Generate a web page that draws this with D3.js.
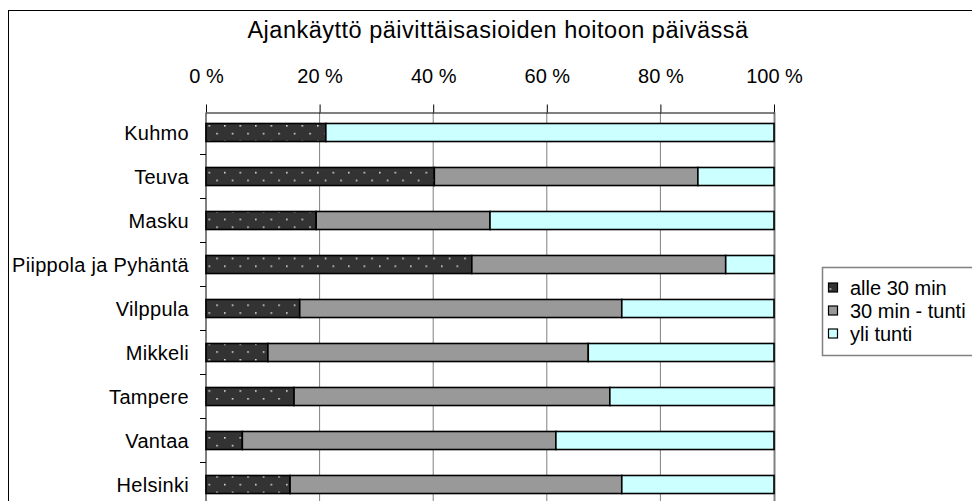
<!DOCTYPE html>
<html>
<head>
<meta charset="utf-8">
<script src="https://cdn.jsdelivr.net/npm/d3@7"></script>
<style>
  body { margin: 0; background: #fff; }
  svg { display: block; font-family: "Liberation Sans", Arial, sans-serif; }
  .tick-label, .legend-label { font-size: 20px; fill: #000; }
  .cat-label { font-size: 20px; letter-spacing: 0.3px; fill: #000; }
  .title { font-size: 23.5px; letter-spacing: 0.5px; fill: #000; }
</style>
</head>
<body>
<svg id="chart" width="972" height="501"></svg>
<script>
//----------------
// Data
//----------------

const categories = ["Kuhmo", "Teuva", "Masku", "Piippola ja Pyhäntä", "Vilppula",
                    "Mikkeli", "Tampere", "Vantaa", "Helsinki"];
const seriesNames = ["alle 30 min", "30 min - tunti", "yli tunti"];
const alle30 =  [21.1, 40.2, 19.4, 46.8, 16.5, 10.9, 15.5,  6.4, 14.8];
const min30h =  [ 0.0, 46.4, 30.6, 44.7, 56.7, 56.4, 55.6, 55.2, 58.4];
const yliTunti = [78.9, 13.4, 50.0,  8.5, 26.8, 32.7, 28.9, 38.4, 26.8];
const tickValues = [0, 20, 40, 60, 80, 100];
const title = "Ajankäyttö päivittäisasioiden hoitoon päivässä";

//----------------
// Constants
//----------------

const plot = {left: 206, right: 774, top: 112.5, step: 44};
const colors = ["url(#dots)", "#999999", "#ccffff"];

var svg = d3.select("#chart");

// table built from the arrays
var data = categories.map(function(c, i) {
  return {name: c, "alle 30 min": alle30[i], "30 min - tunti": min30h[i], "yli tunti": yliTunti[i]};
});

var x = d3.scaleLinear().domain([0, 100]).range([plot.left, plot.right]);
var y = d3.scaleBand()
  .domain(categories)
  .range([plot.top - 2, plot.top - 2 + plot.step * categories.length])
  .paddingInner(0.59)
  .paddingOuter(0.295);

//----------------
// Pattern (dotted dark fill)
//----------------

var defs = svg.append("defs");
var pat = defs.append("pattern")
  .attr("id", "dots")
  .attr("patternUnits", "userSpaceOnUse")
  .attr("x", 208.5).attr("y", 125)
  .attr("width", 15.5).attr("height", 15.6);
pat.append("rect").attr("width", 15.5).attr("height", 15.6).attr("fill", "#333333");
pat.append("rect").attr("x", 0).attr("y", 0).attr("width", 1.6).attr("height", 1.6).attr("fill", "#d8d8d8");
pat.append("rect").attr("x", 7.75).attr("y", 7.8).attr("width", 1.6).attr("height", 1.6).attr("fill", "#d8d8d8");

//----------------
// Frame and title
//----------------

svg.append("rect")
  .attr("x", 8.5).attr("y", 10.5)
  .attr("width", 980).attr("height", 520)
  .attr("fill", "none").attr("stroke", "#000").attr("stroke-width", 1);

svg.append("text")
  .attr("class", "title")
  .attr("x", 498).attr("y", 38)
  .attr("text-anchor", "middle")
  .text(title);

//----------------
// Grid and axes
//----------------

var bottom = y.range()[1];

svg.append("g").selectAll("line")
  .data(tickValues.slice(1, -1))
  .enter().append("line")
    .attr("x1", d => x(d)).attr("x2", d => x(d))
    .attr("y1", plot.top).attr("y2", bottom)
    .attr("stroke", "#808080").attr("stroke-width", 1);

// right border of plot area
svg.append("line")
  .attr("x1", x(100) + 0.5).attr("x2", x(100) + 0.5)
  .attr("y1", plot.top).attr("y2", bottom)
  .attr("stroke", "#808080").attr("stroke-width", 2);

var xAxis = svg.append("g")
  .attr("transform", "translate(0," + plot.top + ")")
  .call(d3.axisTop(x).tickValues(tickValues).tickSize(8).tickSizeOuter(0).tickFormat(d => d + " %"));
xAxis.select(".domain").attr("stroke", "#000");
xAxis.selectAll(".tick line").attr("stroke", "#000");
xAxis.selectAll(".tick text")
  .attr("class", "tick-label")
  .attr("font-family", null).attr("font-size", null)
  .attr("y", -29.5).attr("dy", null);

// left axis: ticks between categories
var yAxis = svg.append("g")
  .attr("transform", "translate(" + plot.left + ",0)");
yAxis.append("line")
  .attr("x1", 0).attr("x2", 0)
  .attr("y1", plot.top).attr("y2", bottom)
  .attr("stroke", "#000");
yAxis.selectAll(".ytick")
  .data(categories.slice(1))
  .enter().append("line")
    .attr("class", "ytick")
    .attr("x1", -6).attr("x2", 0)
    .attr("y1", d => y(d) - y.step() * y.paddingInner() / 2)
    .attr("y2", d => y(d) - y.step() * y.paddingInner() / 2)
    .attr("stroke", "#000");
yAxis.selectAll(".cat-label")
  .data(categories)
  .enter().append("text")
    .attr("class", "cat-label")
    .attr("x", -17)
    .attr("y", d => y(d) + y.bandwidth() / 2 + 7)
    .attr("text-anchor", "end")
    .text(d => d);

//----------------
// Bars
//----------------

var stacked = d3.stack().keys(seriesNames)(data);

svg.append("g").selectAll("g")
  .data(stacked)
  .enter().append("g")
    .attr("fill", (d, i) => colors[i])
    .selectAll("rect")
    .data(d => d.filter(p => p[1] - p[0] > 0))
    .enter().append("rect")
      .attr("x", d => x(d[0]))
      .attr("y", d => y(d.data.name))
      .attr("width", d => x(d[1]) - x(d[0]))
      .attr("height", y.bandwidth())
      .attr("stroke", "#000")
      .attr("stroke-width", 1.6);

//----------------
// Legend
//----------------

var legend = svg.append("g").attr("transform", "translate(822.5, 267.5)");
legend.append("rect")
  .attr("width", 200).attr("height", 88)
  .attr("fill", "#fff").attr("stroke", "#808080").attr("stroke-width", 1.5);

var items = legend.selectAll(".item")
  .data(seriesNames)
  .enter().append("g")
    .attr("class", "item")
    .attr("transform", (d, i) => "translate(0," + (20.5 + i * 23) + ")");
items.append("rect")
  .attr("x", 6).attr("y", -5)
  .attr("width", 9).attr("height", 9)
  .attr("fill", (d, i) => colors[i])
  .attr("stroke", "#000").attr("stroke-width", 1.2);
items.append("text")
  .attr("class", "legend-label")
  .attr("x", 27.5).attr("y", 7)
  .text(d => d);
</script>
</body>
</html>
